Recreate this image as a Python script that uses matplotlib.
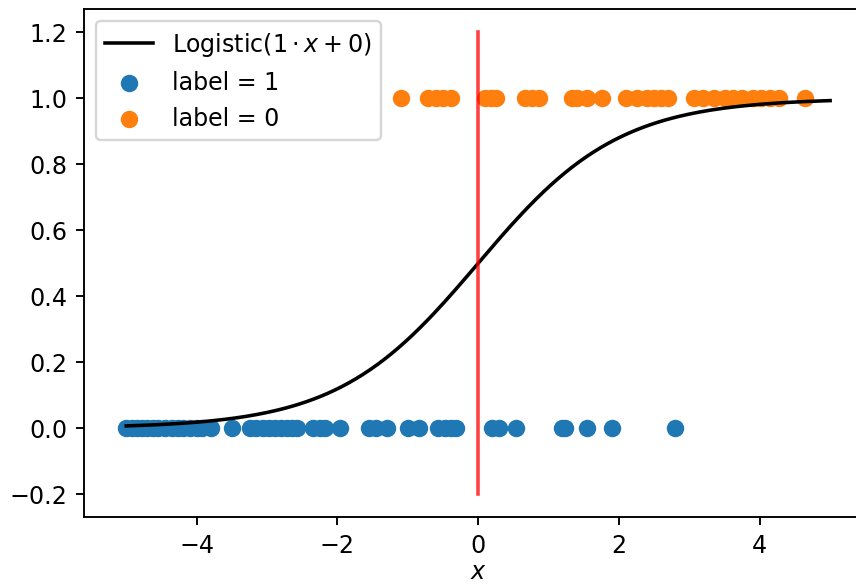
import matplotlib
matplotlib.use("Agg")
import matplotlib.pyplot as plt
import numpy as np

# points
x_label1 = [-5.0, -4.92, -4.85, -4.78, -4.7, -4.62, -4.55, -4.45, -4.35, -4.27, -4.2, -4.1,
            -4.0, -3.92, -3.8, -3.49, -3.24, -3.15, -3.05, -2.97, -2.88, -2.8, -2.72,
            -2.65, -2.57, -2.34, -2.25, -2.17, -1.96, -1.55, -1.45, -1.3, -1.0, -0.84,
            -0.57, -0.47, -0.38, -0.31, 0.19, 0.3, 0.54, 1.19, 1.24, 1.54, 1.9, 2.8]
x_label0 = [-1.1, -0.71, -0.6, -0.5, -0.39, 0.1, 0.18, 0.26, 0.67, 0.76, 0.86, 1.33, 1.4,
            1.54, 1.76, 2.1, 2.25, 2.4, 2.5, 2.6, 2.69, 3.07, 3.2, 3.35, 3.5, 3.62, 3.75,
            3.9, 4.02, 4.15, 4.27, 4.64]
w, b = 1, 0

DPI = 171
xs = np.linspace(-5, 5, 200)
fig = plt.figure(figsize=(856 / DPI, 587 / DPI), dpi=DPI)
# axes run past the right edge, as in the (cropped) reference
ax = fig.add_axes([0.0981, 0.119, 0.921, 0.865])

ax.plot(xs, 1 / (1 + np.exp(-(w * xs + b))), color="k", label=r"Logistic$(1 \cdot x + 0)$")
ax.scatter(x_label1, np.zeros(len(x_label1)), s=40, label="label = 1")
ax.scatter(x_label0, np.ones(len(x_label0)), s=40, label="label = 0")
ax.plot([0, 0], [-0.2, 1.2], color="red", alpha=0.75)
ax.set_xlim(-5.6, 5.6)
ax.set_ylim(-0.27, 1.27)
ax.set_xlabel("$x$", labelpad=1)
ax.legend(loc="upper left")

fig.savefig("out.png", dpi=DPI, facecolor="white")
